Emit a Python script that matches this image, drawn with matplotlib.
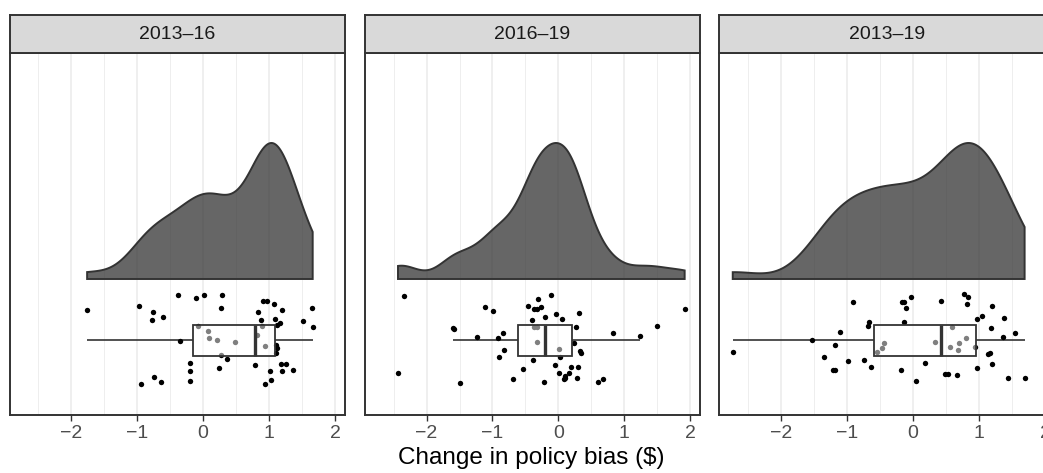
import numpy as np
import matplotlib
matplotlib.use("Agg")
import matplotlib.pyplot as plt
from matplotlib.patches import Rectangle, Polygon

plt.rcParams['font.family'] = ['Liberation Sans', 'DejaVu Sans']

# ---------------- data ----------------
panels = ["2013\u201316", "2016\u201319", "2013\u201319"]

bias_2013_16 = [-1.758, -0.975, -0.763, -0.778, -0.601, -0.379, -0.111, 0.010, 0.283, 0.273,
                -0.348, -0.071, 0.081, 0.086, 0.207, 0.480, 0.273, 0.364, 0.237, -0.192,
                -0.197, -0.197, -0.747, -0.636, -0.934, 0.788, 0.818, 0.899, 0.934, 0.838,
                0.904, 0.975, 1.071, 1.197, 0.879, 1.091, 1.162, 1.126, 1.111, 1.116,
                1.101, 1.020, 1.182, 1.263, 1.197, 1.359, 1.035, 0.944, 1.510, 1.657, 1.662]
jitter_2013_16 = [29.7, 34, 28.3, 20, 23, 45, 42, 45, 45, 32.3,
                  -0.7, 14.3, 9.3, 1.7, 0, -2.3, -15, -19.3, -27.7, -23.3,
                  -31, -40.7, -37.3, -41.7, -44.3, -25.3, 5, 14.3, -6, 27.7,
                  38.7, 39.3, 36, 29.7, 20, 20.7, 17.3, 14.7, -5, -8,
                  -13, -31, -24.3, -24, -30.7, -30, -39.7, -44.3, 19, 32.3, 13]

bias_2016_19 = [-2.343, -2.434, -1.485, -1.591, -1.601, -1.111, -0.985, -1.232, -0.909, -0.833,
                -0.818, -0.894, -0.687, -0.530, -0.389, -0.394, -0.465, -0.364, -0.328, -0.303,
                -0.263, -0.111, -0.202, -0.040, 0.061, 0.318, 0.263, 0.237, 0.328, 0.338,
                0.025, -0.056, 0.010, 0.106, 0.081, 0.096, 0.192, 0.293, 0.162, 0.288,
                -0.212, 0.596, 0.677, 0.828, 1.237, 1.500, 1.919, -0.364, -0.328, -0.318, 0.005]
jitter_2016_19 = [43.7, -32.7, -43.3, 10.7, 12.3, 33.3, 29.3, 2.7, 1.7, 7.3,
                  -10.3, -16.7, -39.3, -29, -19.7, 19.7, 34, 31.3, 30.7, 41.3,
                  32.7, 45.3, 22.7, 25.7, 20.7, 27.3, 13, -2.7, -11, -12.7,
                  -16.7, -25, -33.3, -35.7, -39.3, -37.7, -27.3, -26.7, -33, -37.7,
                  -41.7, -42.3, -39.3, 7, 4, 14.3, 30.7, 12.7, 13.3, -2, -9]

bias_2013_19 = [-2.727, -1.525, -1.096, -1.172, -1.338, -1.212, -1.177, -0.985, -0.904, -0.742,
                -0.636, -0.657, -0.677, -0.545, -0.460, -0.439, -0.167, -0.141, -0.106, -0.025,
                -0.131, -0.172, 0.040, 0.177, 0.328, 0.419, 0.480, 0.530, 0.667, 0.596,
                0.561, 0.687, 0.697, 0.803, 0.934, 0.773, 0.838, 0.818, 0.965, 1.051,
                1.202, 1.374, 1.182, 1.369, 1.545, 1.172, 1.131, 1.192, 0.965, 1.444, 1.692]
jitter_2013_19 = [-12, 0, 8, -4.7, -16.7, -30, -30, -21, 38.3, -20,
                  -26.7, 18, 13.7, -12, -8.3, -3, 37.7, 37.7, 31.7, 42.7,
                  18, -30, -40.7, -23, -2, 39, -34.3, -34.3, -35.3, 13.3,
                  -7, -10.3, -3, 1.7, -7.3, 45.7, 42.7, 35.7, 20.7, 24.3,
                  34, 22.3, 12, 3.3, 6.7, -12.7, -14.3, -24, -28.3, -38, -38]

series = [bias_2013_16, bias_2016_19, bias_2013_19]
jitters = [jitter_2013_16, jitter_2016_19, jitter_2013_19]

x_ticks = [-2, -1, 0, 1, 2]
x_label = "Change in policy bias (\\$)"

# ---------------- layout ----------------
W, H = 1043, 473
fig = plt.figure(figsize=(W / 100, H / 100), dpi=100)

panel_px = [(9.5, 345), (365, 700), (719, 1055)]
top_px, bottom_px, strip_top_px = 53, 415, 15
xlim = (-2.935, 2.152)
ylim = (-75, 287)
base_y = 61
dens_h = 136
box_half = 15.5

dark = '#333333'


def kde_r(vals, grid):
    v = np.asarray(vals)
    n = len(v)
    sd = np.std(v, ddof=1)
    q75, q25 = np.percentile(v, [75, 25])
    bw = 0.9 * min(sd, (q75 - q25) / 1.34) * n ** (-0.2)
    z = (grid[:, None] - v[None, :]) / bw
    return np.exp(-0.5 * z ** 2).sum(axis=1) / (n * bw * np.sqrt(2 * np.pi))


for i, (name, vals, jit) in enumerate(zip(panels, series, jitters)):
    l, r = panel_px[i]
    ax = fig.add_axes([l / W, (H - bottom_px) / H, (r - l) / W, (bottom_px - top_px) / H])
    ax.set_xlim(*xlim)
    ax.set_ylim(*ylim)
    ax.set_facecolor('white')

    # grid
    for g in np.arange(-2.5, 2.51, 1.0):
        ax.axvline(g, color='#EBEBEB', lw=0.6, zorder=0)
    for g in x_ticks:
        ax.axvline(g, color='#EBEBEB', lw=1.1, zorder=0)

    v = np.asarray(vals, dtype=float)
    # density (half violin, trimmed to data range, scaled to common max height)
    grid = np.linspace(v.min(), v.max(), 512)
    d = kde_r(v, grid)
    d = d / d.max() * dens_h
    poly_x = np.concatenate([[grid[0]], grid, [grid[-1]]])
    poly_y = np.concatenate([[base_y], base_y + d, [base_y]])
    ax.add_patch(Polygon(np.column_stack([poly_x, poly_y]), closed=True,
                         facecolor=(0.2, 0.2, 0.2, 0.75), edgecolor=dark, lw=1.4, zorder=2))

    # box statistics
    q1, med, q3 = np.percentile(v, [25, 50, 75])
    iqr = q3 - q1
    lo = v[v >= q1 - 1.5 * iqr].min()
    hi = v[v <= q3 + 1.5 * iqr].max()

    ax.plot([lo, q1], [0, 0], color=dark, lw=1.2, zorder=3, solid_capstyle='butt')
    ax.plot([q3, hi], [0, 0], color=dark, lw=1.2, zorder=3, solid_capstyle='butt')

    ax.scatter(v, jit, s=15, color='black', linewidths=0, zorder=4)

    ax.add_patch(Rectangle((q1, -box_half), q3 - q1, 2 * box_half,
                           facecolor=(1, 1, 1, 0.5), edgecolor=dark, lw=1.3, zorder=5))
    ax.plot([med, med], [-box_half, box_half], color=dark, lw=2.4, zorder=6,
            solid_capstyle='butt')

    ax.set_yticks([])
    ax.set_xticks(x_ticks)
    ax.set_xticklabels(["\u2212%d" % -t if t < 0 else "%d" % t for t in x_ticks])
    ax.tick_params(axis='x', length=4, width=1.0, color=dark, labelsize=14,
                   labelcolor='#4D4D4D', pad=3)
    for s in ax.spines.values():
        s.set_color(dark)
        s.set_linewidth(1.4)
        s.set_zorder(10)

    # strip
    sax = fig.add_axes([l / W, (H - top_px) / H, (r - l) / W, (top_px - strip_top_px) / H])
    sax.set_facecolor('#D9D9D9')
    sax.set_xticks([])
    sax.set_yticks([])
    for s in sax.spines.values():
        s.set_color(dark)
        s.set_linewidth(1.4)
    sax.text(0.5, 0.5, name, transform=sax.transAxes, ha='center', va='center',
             fontsize=14, color='#1A1A1A')

fig.text(531 / W, (H - 458) / H, x_label, ha='center', va='center', fontsize=17.5,
         color='black')

fig.savefig('out.png', dpi=100)
